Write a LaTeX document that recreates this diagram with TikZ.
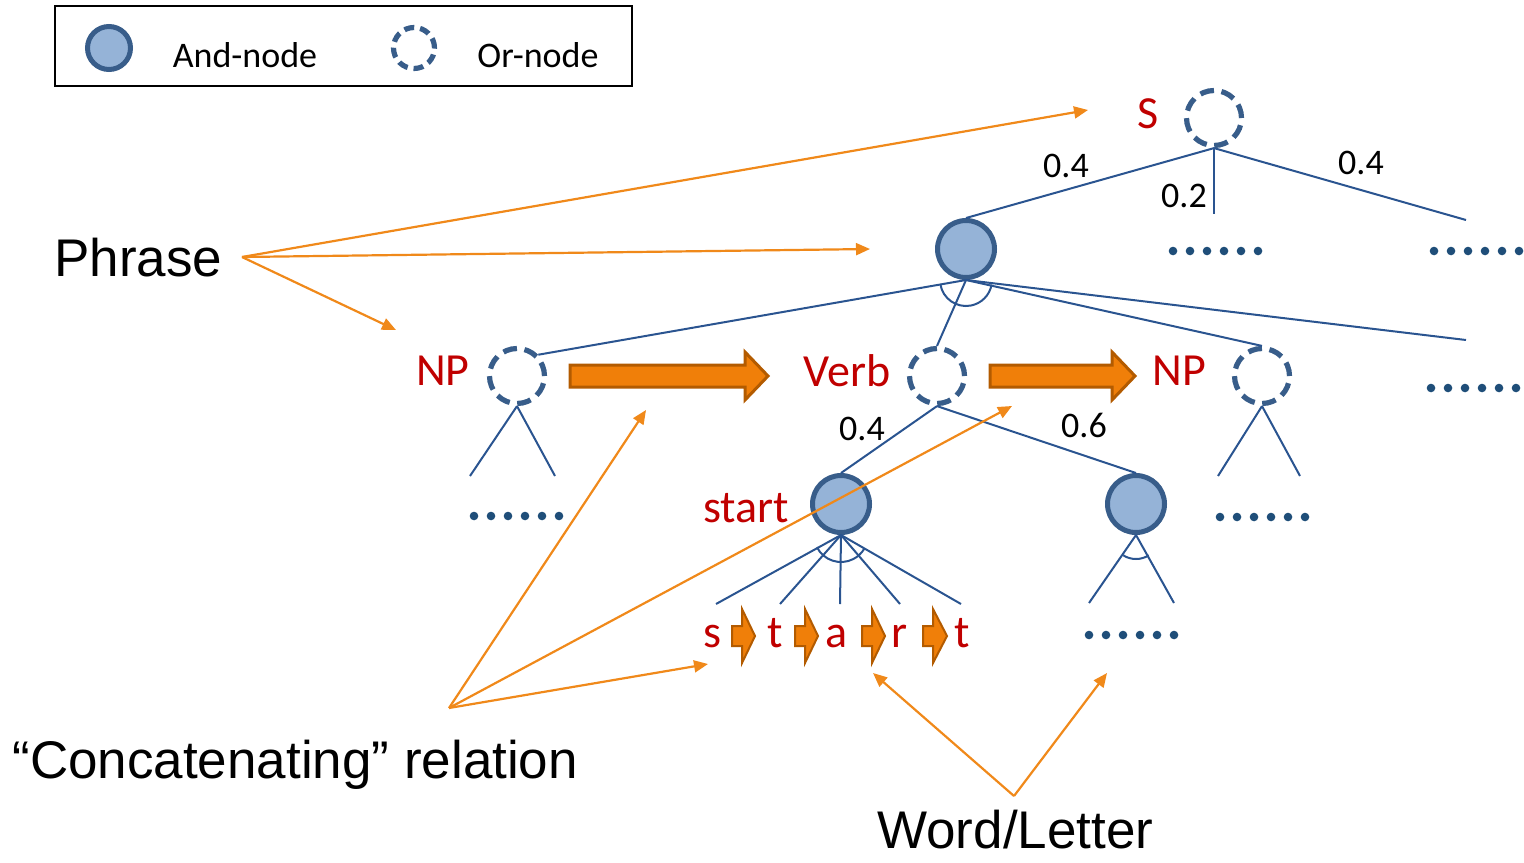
\documentclass[tikz,border=0pt]{standalone}
\usepackage{fontspec}
\setmainfont{Carlito}
\newfontfamily\arialfont{Liberation Sans}
\usetikzlibrary{arrows.meta}
\definecolor{treeblue}{HTML}{2A5490}
\definecolor{andfill}{HTML}{95B3D7}
\definecolor{andline}{HTML}{385D8A}
\definecolor{dotblue}{HTML}{1F4E79}
\definecolor{symred}{HTML}{C00000}
\definecolor{blockfill}{HTML}{F07F09}
\definecolor{blockline}{HTML}{B35B00}
\definecolor{pointercol}{HTML}{F0891A}
% a row of six dots, first dot centred at (#1,#2)
\newcommand\dotrow[2]{\foreach \k in {0,...,5} \fill[dotblue] (#1+\k*17,#2) circle[radius=4.3];}
% block arrow: left x, head start x, tip x, centre y, shaft half height, head half height
\newcommand\blockarrow[7][blockarr]{\draw[#1] (#2,#5-#6) -- (#3,#5-#6) -- (#3,#5-#7) -- (#4,#5) -- (#3,#5+#7) -- (#3,#5+#6) -- (#2,#5+#6) -- cycle;}
\begin{document}
\begin{tikzpicture}[x=0.5pt,y=-0.5pt,
  andnode/.style={circle,draw=andline,fill=andfill,line width=2.5pt,minimum size=28.5pt,inner sep=0pt},
  ornode/.style={circle,draw=andline,dash pattern=on 7pt off 3.8pt,line width=2.6pt,minimum size=27.5pt,inner sep=0pt},
  symbol/.style={text=symred,font=\fontsize{23pt}{23pt}\selectfont,anchor=base,inner sep=0pt},
  prob/.style={font=\fontsize{18pt}{18pt}\selectfont,anchor=base,inner sep=0pt},
  keytext/.style={font=\fontsize{18pt}{18pt}\selectfont,anchor=base,inner sep=0pt},
  caption/.style={font=\arialfont\fontsize{26.5pt}{26.5pt}\selectfont,anchor=base west,inner sep=0pt},
  edge/.style={draw=treeblue,line width=1pt},
  pointer/.style={draw=pointercol,line width=1.1pt,-{Triangle[length=7pt,width=6pt]}},
  blockarr/.style={fill=blockfill,draw=blockline,line width=1.5pt,line join=miter},
  smallarr/.style={fill=blockfill,draw=blockline,line width=1pt,line join=miter},
]
\useasboundingbox (0,0) rectangle (1524,862);

% legend
\draw[line width=1pt] (55,6) rectangle (632,86);
\node[andnode,minimum size=21.5pt] (keyAnd) at (109,48) {};
\node[keytext] (keyAndText) at (245,67) {And-node};
\node[ornode,minimum size=20.5pt,dash pattern=on 5pt off 3pt] (keyOr) at (414,48) {};
\node[keytext] (keyOrText) at (538,67) {Or-node};

% tree nodes
\node[ornode] (S) at (1214,118) {};
\node[symbol] (Slab) at (1148,128) {S};
\node[andnode] (A1) at (966,249) {};
\node[ornode] (NP1) at (517,376) {};
\node[symbol] (NP1lab) at (443,385) {NP};
\node[ornode] (V) at (937,376) {};
\node[symbol] (Vlab) at (847,386) {Verb};
\node[ornode] (NP2) at (1262,376) {};
\node[symbol] (NP2lab) at (1179,385) {NP};
\node[andnode] (start) at (841,504) {};
\node[symbol] (startlab) at (746,522) {start};
\node[andnode] (A3) at (1136,504) {};

% letters
\node[symbol] (l1) at (712,647) {s};
\node[symbol] (l2) at (775,647) {t};
\node[symbol] (l3) at (837,647) {a};
\node[symbol] (l4) at (900,647) {r};
\node[symbol] (l5) at (962,647) {t};

% free ends of branches
\coordinate (S2) at (1214,214);
\coordinate (S3) at (1466,220);
\coordinate (A1r) at (1466,340);
\coordinate (NP1a) at (470,476);
\coordinate (NP1b) at (555,476);
\coordinate (NP2a) at (1218,476);
\coordinate (NP2b) at (1300,476);
\coordinate (st1) at (716,604);
\coordinate (st2) at (780,604);
\coordinate (st3) at (840,604);
\coordinate (st4) at (900,604);
\coordinate (st5) at (961,604);
\coordinate (A3a) at (1089,603);
\coordinate (A3b) at (1174,603);

% branches
\draw[edge] (S.south) -- (A1.north);
\draw[edge] (S.south) -- (S2);
\draw[edge] (S.south) -- (S3);
\draw[edge] (A1.south) -- (NP1.north east);
\draw[edge] (A1.south) -- (V.north);
\draw[edge] (A1.south) -- (NP2.north);
\draw[edge] (A1.south) -- (A1r);
\draw[edge] (NP1.south) -- (NP1a);
\draw[edge] (NP1.south) -- (NP1b);
\draw[edge] (NP2.south) -- (NP2a);
\draw[edge] (NP2.south) -- (NP2b);
\draw[edge] (V.south) -- (start.north);
\draw[edge] (V.south) -- (A3.north);
\foreach \c in {st1,st2,st3,st4,st5} \draw[edge] (start.south) -- (\c);
\draw[edge] (A3.south) -- (A3a);
\draw[edge] (A3.south) -- (A3b);

% and-arcs
\draw[edge] ([shift={(190:13pt)}]A1.south) arc[start angle=190,end angle=350,radius=13pt];
\draw[edge] ([shift={(207:13.5pt)}]start.south) arc[start angle=207,end angle=330,radius=13.5pt];
\draw[edge] ([shift={(238:12pt)}]A3.south) arc[start angle=238,end angle=302,radius=12pt];

% branch probabilities
\node[prob] (p1) at (1066,177) {0.4};
\node[prob] (p2) at (1184,207) {0.2};
\node[prob] (p3) at (1361,174) {0.4};
\node[prob] (p4) at (862,440) {0.4};
\node[prob] (p5) at (1084,437) {0.6};

% elided subtrees
\dotrow{1173}{251}
\dotrow{1434}{251}
\dotrow{1431}{388}
\dotrow{474}{516}
\dotrow{1220}{517}
\dotrow{1089}{635}

% concatenation arrows
\blockarrow{570}{745}{768}{376}{11}{24}
\blockarrow{990}{1112}{1135}{376}{11}{24}
\blockarrow[smallarr]{732}{742}{755}{636}{10}{27}
\blockarrow[smallarr]{795}{805}{818}{636}{10}{27}
\blockarrow[smallarr]{862}{872}{885}{636}{10}{27}
\blockarrow[smallarr]{923}{933}{947}{636}{10}{27}

% captions
\node[caption] (phrase) at (54,276) {Phrase};
\node[caption] (concat) at (12,778) {“Concatenating” relation};
\node[caption] (word) at (877,848) {Word/Letter};

\coordinate (phraseFrom) at (242,257);
\coordinate (concatFrom) at (449,708);
\coordinate (wordFrom) at (1014,796);
\coordinate (toS) at (1088,110);
\coordinate (toA1) at (870,249);
\coordinate (toNP1) at (396,330);
\coordinate (toBig1) at (646,410);
\coordinate (toBig2) at (1012,406);
\coordinate (toSmall) at (708,664);
\coordinate (toLetter) at (873,673);
\coordinate (toDots) at (1107,673);

\draw[pointer] (phraseFrom) -- (toS);
\draw[pointer] (phraseFrom) -- (toA1);
\draw[pointer] (phraseFrom) -- (toNP1);
\draw[pointer] (concatFrom) -- (toBig1);
\draw[pointer] (concatFrom) -- (toBig2);
\draw[pointer] (concatFrom) -- (toSmall);
\draw[pointer] (wordFrom) -- (toLetter);
\draw[pointer] (wordFrom) -- (toDots);
\end{tikzpicture}
\end{document}
